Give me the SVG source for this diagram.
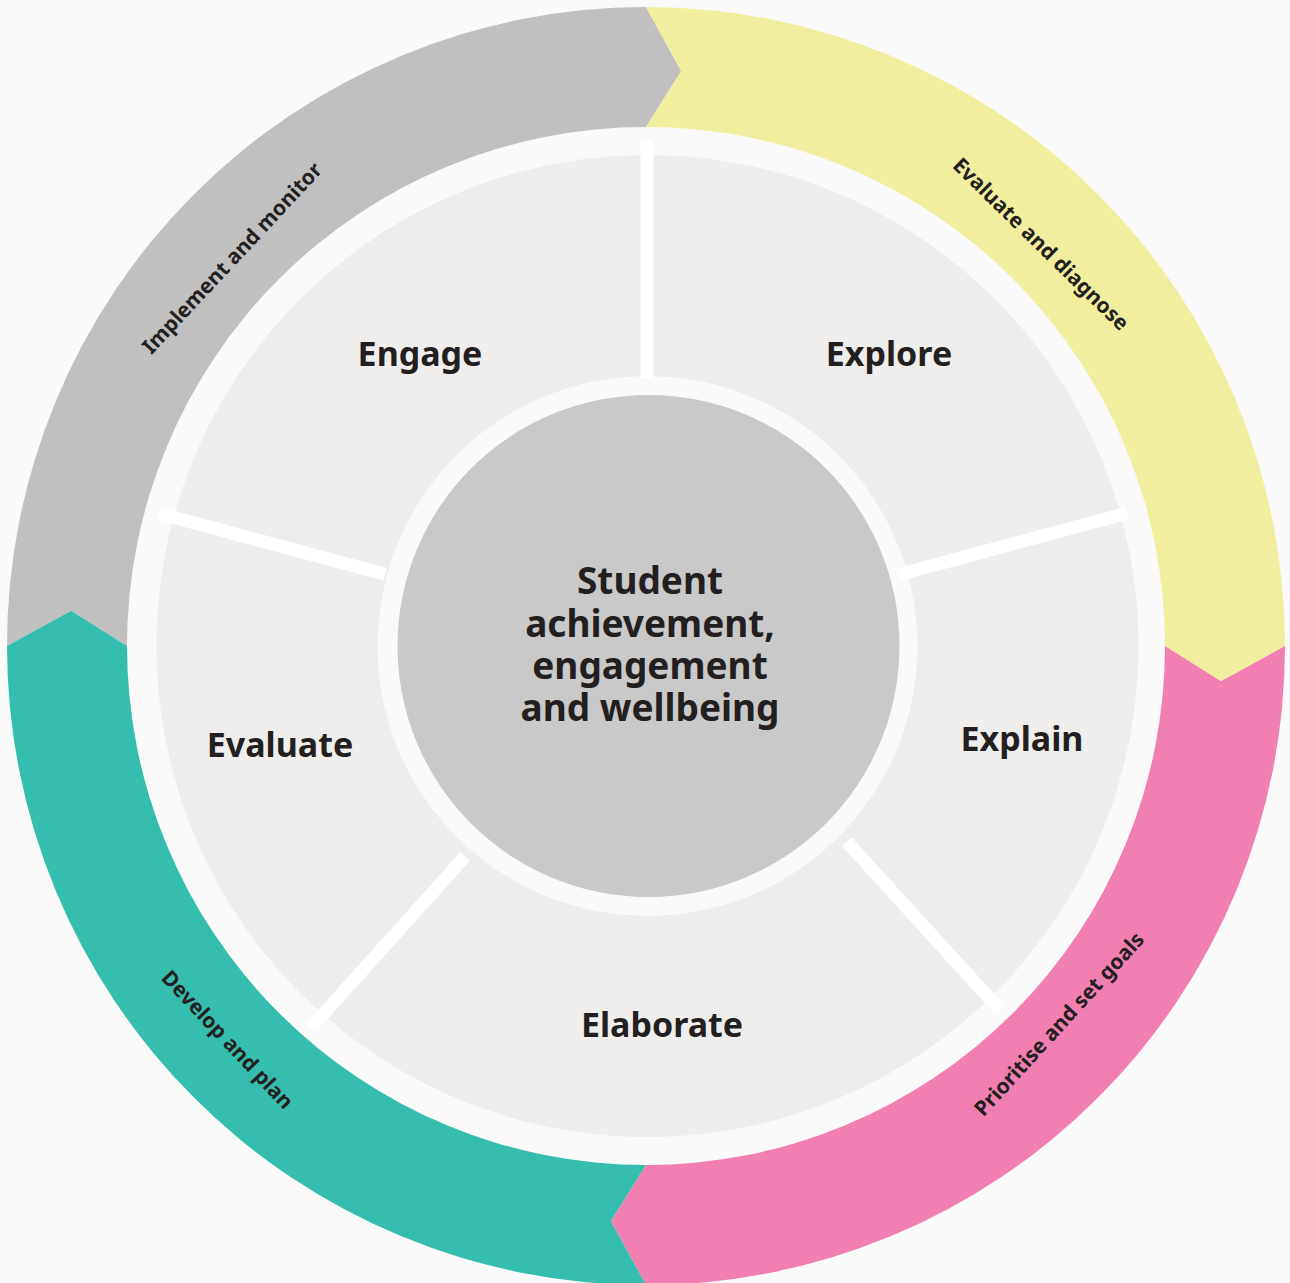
<svg xmlns="http://www.w3.org/2000/svg" width="1290" height="1283" viewBox="0 0 1290 1283">
  <style>
    .t { font-family: "Noto Sans", "Open Sans", "DejaVu Sans", sans-serif; font-weight: 700; fill: #231f20; text-anchor: middle; }
    .band-t { font-size: 21px; }
    .seg-t { font-size: 34px; }
    .ctr-t { font-size: 37px; }
    .seg { fill: #efeeec; }
    .div { stroke: #ffffff; stroke-width: 13; stroke-linecap: butt; fill: none; }
  </style>
  <rect x="0" y="0" width="1290" height="1283" fill="#fafafa"/>

  <!-- Outer cycle bands -->
  <g id="band-implement">
    <path d="M 7 646 A 639 639 0 0 1 646 7 L 681.16 71.08 L 646 127 A 519 519 0 0 0 127 646 L 71.08 610.84 Z" fill="#c0c0c0"/>
    <text class="t band-t" transform="translate(233 259) rotate(-47)" x="0" y="6">Implement and monitor</text>
  </g>
  <g id="band-evaluate">
    <path d="M 646 7 A 639 639 0 0 1 1285 646 L 1220.92 681.16 L 1165 646 A 519 519 0 0 0 646 127 L 681.16 71.08 Z" fill="#f1ef9f"/>
    <text class="t band-t" transform="translate(1040 245) rotate(44.4)" x="0" y="6">Evaluate and diagnose</text>
  </g>
  <g id="band-prioritise">
    <path d="M 1285 646 A 639 639 0 0 1 646 1285 L 610.84 1220.92 L 646 1165 A 519 519 0 0 0 1165 646 L 1220.92 681.16 Z" fill="#f27fb2"/>
    <text class="t band-t" transform="translate(1060 1025) rotate(-47.6)" x="0" y="6">Prioritise and set goals</text>
  </g>
  <g id="band-develop">
    <path d="M 646 1285 A 639 639 0 0 1 7 646 L 71.08 610.84 L 127 646 A 519 519 0 0 0 646 1165 L 610.84 1220.92 Z" fill="#35bead"/>
    <text class="t band-t" transform="translate(226.5 1040.5) rotate(46.8)" x="0" y="6">Develop and plan</text>
  </g>

  <!-- Inner phase segments -->
  <g id="seg-explore">
    <path class="seg" d="M 647.5 155 A 491 491 0 0 1 1120.18 513.14 L 907.43 572.94 A 270 270 0 0 0 647.5 376 Z"/>
    <text class="t seg-t" x="889" y="366">Explore</text>
  </g>
  <g id="seg-explain">
    <path class="seg" d="M 1120.18 513.14 A 491 491 0 0 1 994.69 993.19 L 838.42 836.92 A 270 270 0 0 0 907.43 572.94 Z"/>
    <text class="t seg-t" x="1022" y="751">Explain</text>
  </g>
  <g id="seg-elaborate">
    <path class="seg" d="M 994.69 993.19 A 491 491 0 0 1 325.37 1016.56 L 470.36 849.77 A 270 270 0 0 0 838.42 836.92 Z"/>
    <text class="t seg-t" x="662" y="1037">Elaborate</text>
  </g>
  <g id="seg-evaluate">
    <path class="seg" d="M 325.37 1016.56 A 491 491 0 0 1 173.9 516.44 L 387.07 574.76 A 270 270 0 0 0 470.36 849.77 Z"/>
    <text class="t seg-t" x="280" y="757">Evaluate</text>
  </g>
  <g id="seg-engage">
    <path class="seg" d="M 173.9 516.44 A 491 491 0 0 1 647.5 155 L 647.5 376 A 270 270 0 0 0 387.07 574.76 Z"/>
    <text class="t seg-t" x="420" y="366">Engage</text>
  </g>

  <!-- Dividers between segments -->
  <g id="connectors">
    <line class="div" x1="647" y1="140" x2="647" y2="378"/>
    <line class="div" x1="900" y1="574.3" x2="1126.7" y2="513.3"/>
    <line class="div" x1="846.7" y1="841.7" x2="1000" y2="1010"/>
    <line class="div" x1="465" y1="856.7" x2="310.7" y2="1028"/>
    <line class="div" x1="385" y1="574.3" x2="158.3" y2="513.3"/>
  </g>

  <!-- Centre -->
  <g id="centre">
    <circle cx="648.5" cy="646" r="251" fill="#c9c9c9"/>
    <text class="t ctr-t" x="650" y="594">Student</text>
    <text class="t ctr-t" x="650" y="637">achievement,</text>
    <text class="t ctr-t" x="650" y="679">engagement</text>
    <text class="t ctr-t" x="650" y="721">and wellbeing</text>
  </g>
</svg>
